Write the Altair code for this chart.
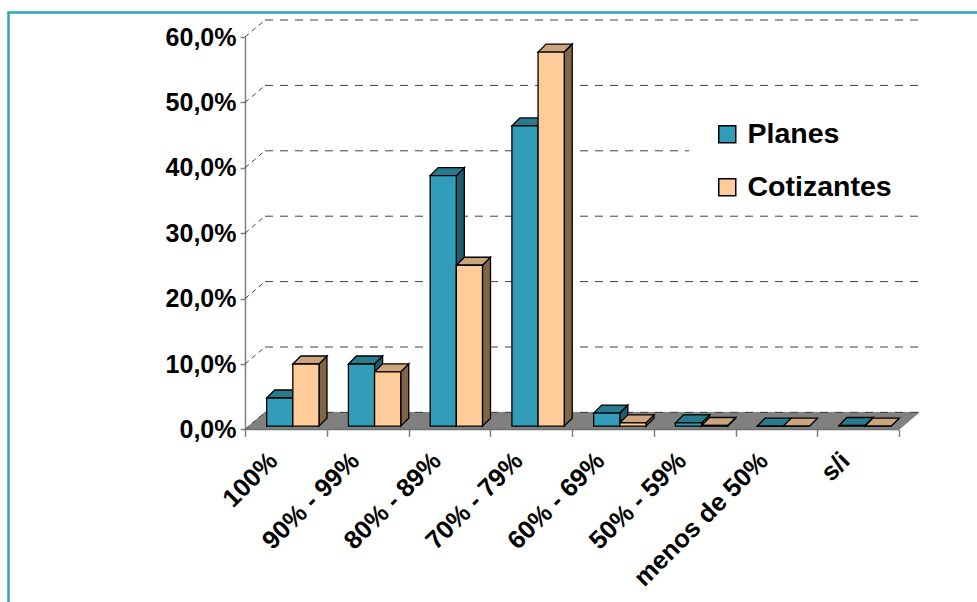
import json
import altair as alt
import pandas as pd

# ---------------- data ----------------
categories = ["100%", "90% - 99%", "80% - 89%", "70% - 79%",
              "60% - 69%", "50% - 59%", "menos de 50%", "s/i"]
series = ["Planes", "Cotizantes"]
planes = [4.3, 9.5, 38.3, 45.9, 2.0, 0.5, 0.0, 0.1]
cotizantes = [9.5, 8.3, 24.6, 57.2, 0.5, 0.1, 0.0, 0.0]
y_ticks = [0, 10, 20, 30, 40, 50, 60]

# ---------------- style ----------------
front_colors = ["#329DB9", "#FFCC99"]
top_colors = ["#287B8F", "#CCA47D"]
side_colors = ["#1E5D6D", "#806649"]
FLOOR = "#808080"
FRAME = "#35A0BA"
FONT = "Liberation Sans"

CAT_PX = 81.75          # pixels per category
PCT_PX = 6.54           # pixels per percentage point
N = len(categories)
WALL_DX = 20 / CAT_PX   # depth of the 3D box (data units)
WALL_DY = 17 / PCT_PX
BAR_DX = 8 / CAT_PX     # depth of a bar
BAR_DY = 8 / PCT_PX
BAR_START = 0.265
BAR_W = 0.32
BAR_BASE = 0.5
Y_MAX = 60

PLOT_W = (N + WALL_DX) * CAT_PX
PLOT_H = Y_MAX * PCT_PX
PAD_L, PAD_T = 245, 37
PAD_R = 977 - PAD_L - PLOT_W
PAD_B = 602 - PAD_T - PLOT_H

xs = alt.Scale(domain=[0, N + WALL_DX], nice=False, zero=False)
ys = alt.Scale(domain=[0, Y_MAX], nice=False, zero=False)

# ---------------- geometry tables ----------------
front_rows, top_rows, side_rows = [], [], []
for i, cat in enumerate(categories):
    for s, vals in enumerate([planes, cotizantes]):
        v = vals[i]
        x0 = i + BAR_START + s * BAR_W
        x1 = x0 + BAR_W
        b = BAR_BASE
        t = b + v
        bid = f"{i}-{s}"
        front_rows.append(dict(serie=series[s], cat=cat, valor=v,
                               x0=x0, x1=x1, y0=b, y1=t))
        for (px, py, py2) in [(x0, t, t), (x0 + BAR_DX, t, t + BAR_DY),
                              (x1, t, t + BAR_DY),
                              (x1 + BAR_DX, t + BAR_DY, t + BAR_DY)]:
            top_rows.append(dict(id=bid, x=px, y=py, y2=py2, fill=top_colors[s]))
        for (px, py, py2) in [(x1, b, t), (x1 + BAR_DX, b + BAR_DY, t + BAR_DY)]:
            side_rows.append(dict(id=bid, x=px, y=py, y2=py2, fill=side_colors[s]))

front_df = pd.DataFrame(front_rows)
top_df = pd.DataFrame(top_rows)
side_df = pd.DataFrame(side_rows)

floor_df = pd.DataFrame(dict(
    id=["floor"] * 4,
    x=[0, WALL_DX, N, N + WALL_DX],
    y=[0, 0, 0, WALL_DY],
    y2=[0, WALL_DY, WALL_DY, WALL_DY],
))
grid_df = pd.DataFrame(dict(
    v=y_ticks,
    xa=[WALL_DX] * len(y_ticks),
    xb=[N + WALL_DX] * len(y_ticks),
    yw=[t + WALL_DY for t in y_ticks],
    x0=[0] * len(y_ticks),
))
edge_df = pd.DataFrame(dict(xa=[0], xb=[N], y=[0]))
one = pd.DataFrame(dict(k=[0]))

# ---------------- layers ----------------
frame_left = alt.Chart(one).mark_rule(color=FRAME, strokeWidth=2.5).encode(
    x=alt.value(8.5 - PAD_L), y=alt.value(12.5 - PAD_T), y2=alt.value(602 - PAD_T))
frame_top = alt.Chart(one).mark_rule(color=FRAME, strokeWidth=2.5).encode(
    y=alt.value(12.5 - PAD_T), x=alt.value(7.3 - PAD_L), x2=alt.value(977 - PAD_L))

floor = alt.Chart(floor_df).mark_area(
    orient="vertical", color=FLOOR, stroke=FLOOR, strokeWidth=1).encode(
    x=alt.X("x:Q", scale=xs, axis=alt.Axis(
        values=list(range(N + 1)), labels=False, domain=False, grid=False,
        ticks=True, tickSize=7, tickColor="#808080", tickWidth=1.5,
        title=None, orient="bottom")),
    y=alt.Y("y:Q", scale=ys, axis=None, stack=None),
    y2="y2:Q",
    detail="id:N",
)

grid = alt.Chart(grid_df).mark_rule(
    color="#404040", strokeWidth=1, strokeDash=[8, 7]).encode(
    x=alt.X("xa:Q", scale=xs, axis=None), x2="xb:Q",
    y=alt.Y("yw:Q", scale=ys, axis=None))

connectors = alt.Chart(grid_df).mark_rule(
    color="#404040", strokeWidth=1, strokeDash=[5, 4]).encode(
    x=alt.X("x0:Q", scale=xs, axis=None), x2="xa:Q",
    y=alt.Y("v:Q", scale=ys, axis=None), y2="yw:Q")

front_edge = alt.Chart(edge_df).mark_rule(color="#707070", strokeWidth=1.5).encode(
    x=alt.X("xa:Q", scale=xs, axis=None), x2="xb:Q",
    y=alt.Y("y:Q", scale=ys, axis=None))

legend_box = alt.Chart(one).mark_rect(color="white").encode(
    x=alt.value(689 - PAD_L), x2=alt.value(977 - PAD_L),
    y=alt.value(100 - PAD_T), y2=alt.value(208 - PAD_T))

sides = alt.Chart(side_df).mark_area(
    orient="vertical", stroke="black", strokeWidth=1.3).encode(
    x=alt.X("x:Q", scale=xs, axis=None),
    y=alt.Y("y:Q", scale=ys, axis=None, stack=None),
    y2="y2:Q",
    detail="id:N",
    color=alt.Color("fill:N", scale=None),
)

tops = alt.Chart(top_df).mark_area(
    orient="vertical", stroke="black", strokeWidth=1.3).encode(
    x=alt.X("x:Q", scale=xs, axis=None),
    y=alt.Y("y:Q", scale=ys, axis=None, stack=None),
    y2="y2:Q",
    detail="id:N",
    color=alt.Color("fill:N", scale=None),
)

label_expr = json.dumps(categories) + "[round(datum.value - 0.5)]"
y_label_expr = "replace(format(datum.value, '.1f'), '.', ',') + '%'"

fronts = alt.Chart(front_df).mark_rect(stroke="black", strokeWidth=1.3).encode(
    x=alt.X("x0:Q", scale=xs, axis=alt.Axis(
        values=[i + 0.5 for i in range(N)], labelExpr=label_expr,
        labelAngle=315, labelAlign="right", labelBaseline="middle",
        labelPadding=27, labelOffset=-13, ticks=False, tickSize=0,
        domain=False, grid=False, labelFlush=False, labelOverlap=False,
        labelFont=FONT, labelFontSize=25.5, labelFontWeight="bold",
        labelColor="black", title=None, orient="bottom")),
    x2="x1:Q",
    y=alt.Y("y0:Q", scale=ys, axis=alt.Axis(
        values=y_ticks, labelExpr=y_label_expr, grid=False,
        domain=True, domainColor="#808080", domainWidth=1.5,
        ticks=True, tickSize=5, tickColor="#808080", tickWidth=1.5,
        labelPadding=4, labelFont=FONT, labelFontSize=25,
        labelFontWeight="bold", labelColor="black", title=None)),
    y2="y1:Q",
    color=alt.Color("serie:N", scale=alt.Scale(domain=series, range=front_colors),
                    legend=alt.Legend(
                        title=None, orient="none",
                        legendX=713 - PAD_L, legendY=134 - PAD_T - 14,
                        symbolType="square", symbolSize=289,
                        symbolStrokeColor="black", symbolStrokeWidth=1.5,
                        symbolOpacity=1, labelOffset=6, rowPadding=24,
                        labelFont=FONT, labelFontSize=28.5, labelFontWeight="bold",
                        labelColor="black", padding=0)),
    tooltip=["cat:N", "serie:N", "valor:Q"],
)

chart = alt.layer(
    frame_left, frame_top, floor, grid, connectors, front_edge, legend_box,
    sides, tops, fronts,
).resolve_axis(x="independent", y="independent").properties(
    width=PLOT_W, height=PLOT_H,
    autosize=alt.AutoSizeParams(type="none"),
    padding={"left": PAD_L, "top": PAD_T, "right": PAD_R, "bottom": PAD_B},
    background="white",
).configure_view(stroke=None)

chart.save("out.html", embed_options={"renderer": "svg", "actions": False})
